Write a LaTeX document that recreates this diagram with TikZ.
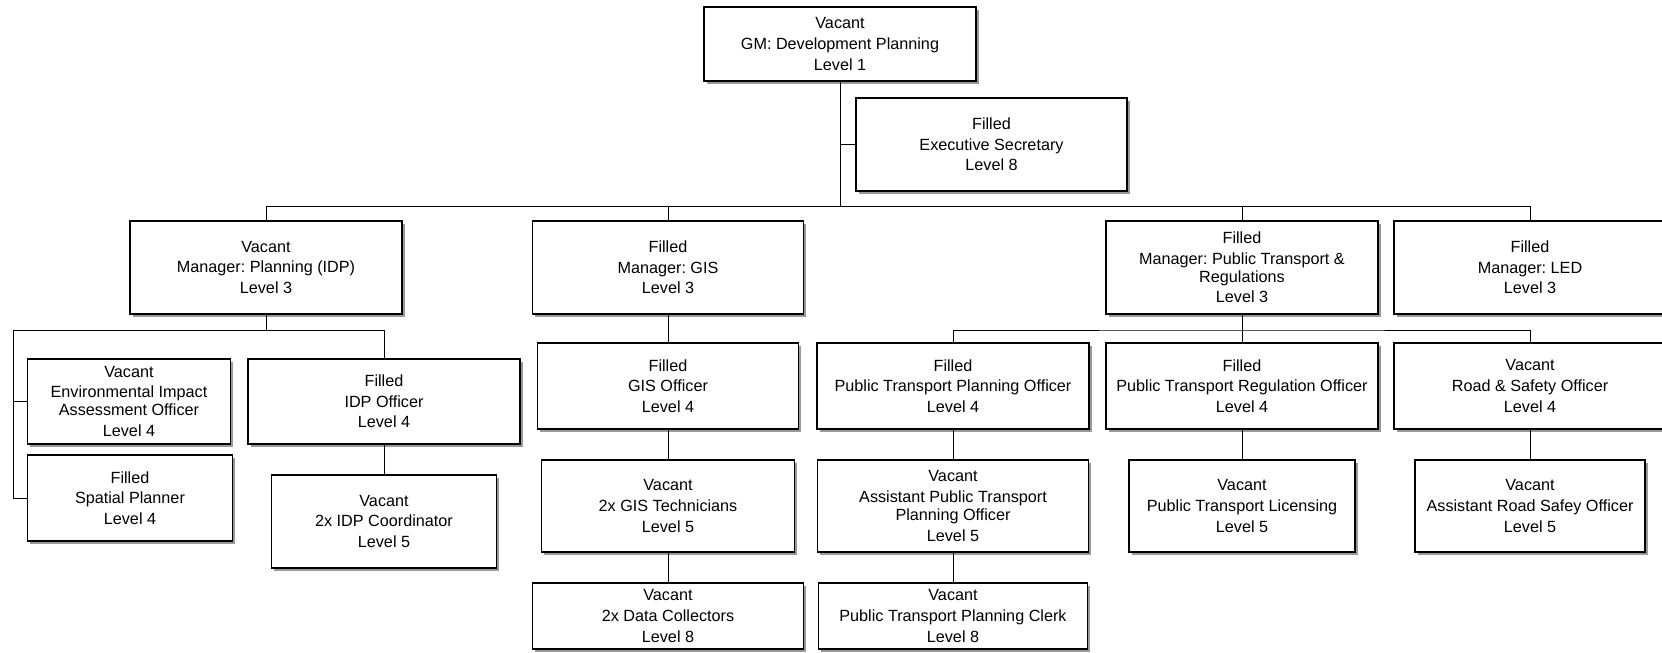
\documentclass[tikz,border=0pt]{standalone}
\usepackage{fontspec}
\setmainfont{Liberation Sans}
\usetikzlibrary{shadows}
\frenchspacing

% one org-chart post: name, centre x, centre y, width, height, status, title, level
\newcommand\orgpost[8]{%
  \node[post, minimum width=#4*0.5pt, minimum height=#5*0.5pt] (#1) at (#2,#3)
    {#6\\[1.3pt]#7\\[1.3pt]#8};}

\begin{document}
\begin{tikzpicture}[x=0.5pt, y=-0.5pt,
  post/.style={draw=black, line width=0.6pt, fill=white, inner sep=0pt,
    align=center, font=\fontsize{8.1}{9}\selectfont,
    drop shadow={shadow xshift=1.4pt, shadow yshift=-1.4pt, fill=black!40, opacity=1}},
  link/.style={draw=black, line width=0.5pt}]

\clip (0,0) rectangle (1662,653);

% bus lines between levels
\coordinate (bus) at (840,206);
\coordinate (planbus) at (13,330);
\coordinate (ptbus) at (1242,330);

% level 1 and the secretary
\orgpost{gm}{840}{44}{272}{74}{Vacant}{GM: Development Planning}{Level 1}
\orgpost{sec}{991.5}{144.5}{271}{93}{Filled}{Executive Secretary}{Level 8}

% managers
\orgpost{plan}{266}{267.5}{272}{93}{Vacant}{Manager: Planning (IDP)}{Level 3}
\orgpost{gis}{668}{267.5}{271}{93}{Filled}{Manager: GIS}{Level 3}
\orgpost{pt}{1242}{267.5}{272}{93}{Filled}{Manager: Public Transport \&\\Regulations}{Level 3}
\orgpost{led}{1530}{267.5}{272}{93}{Filled}{Manager: LED}{Level 3}

% planning branch
\orgpost{eia}{129}{401.5}{203}{85}{Vacant}{Environmental Impact\\Assessment Officer}{Level 4}
\orgpost{spatial}{130}{498}{205}{86}{Filled}{Spatial Planner}{Level 4}
\orgpost{idpo}{384}{401.5}{272}{85}{Filled}{IDP Officer}{Level 4}
\orgpost{idpc}{384}{521.5}{225}{93}{Vacant}{2x IDP Coordinator}{Level 5}

% GIS branch
\orgpost{giso}{668}{386}{261}{86}{Filled}{GIS Officer}{Level 4}
\orgpost{gist}{668}{506}{253}{92}{Vacant}{2x GIS Technicians}{Level 5}
\orgpost{gisd}{668}{616}{271}{66}{Vacant}{2x Data Collectors}{Level 8}

% public transport branch
\orgpost{ptpo}{953}{386}{272}{86}{Filled}{Public Transport Planning Officer}{Level 4}
\orgpost{aptpo}{953}{506}{271}{92}{Vacant}{Assistant Public Transport\\Planning Officer}{Level 5}
\orgpost{ptclerk}{953}{616}{269}{66}{Vacant}{Public Transport Planning Clerk}{Level 8}
\orgpost{ptro}{1242}{386}{272}{86}{Filled}{Public Transport Regulation Officer}{Level 4}
\orgpost{ptlic}{1242}{506}{226}{92}{Vacant}{Public Transport Licensing}{Level 5}
\orgpost{rso}{1530}{386}{272}{86}{Vacant}{Road \& Safety Officer}{Level 4}
\orgpost{arso}{1530}{506}{230}{92}{Vacant}{Assistant Road Safey Officer}{Level 5}

% connectors from the top
\draw[link] (gm.south) -- (bus);
\draw[link] (sec.west) -- (sec.west -| gm.south);
\draw[link] (plan.north) |- (led.north |- bus) -- (led.north);
\draw[link] (gis.north) -- (gis.north |- bus);
\draw[link] (pt.north) -- (pt.north |- bus);

% planning connectors
\draw[link] (plan.south) -- (plan.south |- planbus);
\draw[link] (idpo.north) |- (planbus) |- (spatial.west);
\draw[link] (eia.west) -- (eia.west -| planbus);
\draw[link] (idpo) -- (idpc);

% GIS connectors
\draw[link] (gis) -- (giso);
\draw[link] (giso) -- (gist);
\draw[link] (gist) -- (gisd);

% public transport connectors
\draw[link] (pt.south) -- (ptbus);
\draw[link] (ptpo.north) |- (ptbus) -| (rso.north);
\draw[link] (ptbus) -- (ptro.north);
\draw[link] (ptpo) -- (aptpo);
\draw[link] (aptpo) -- (ptclerk);
\draw[link] (ptro) -- (ptlic);
\draw[link] (rso) -- (arso);
\end{tikzpicture}
\end{document}
